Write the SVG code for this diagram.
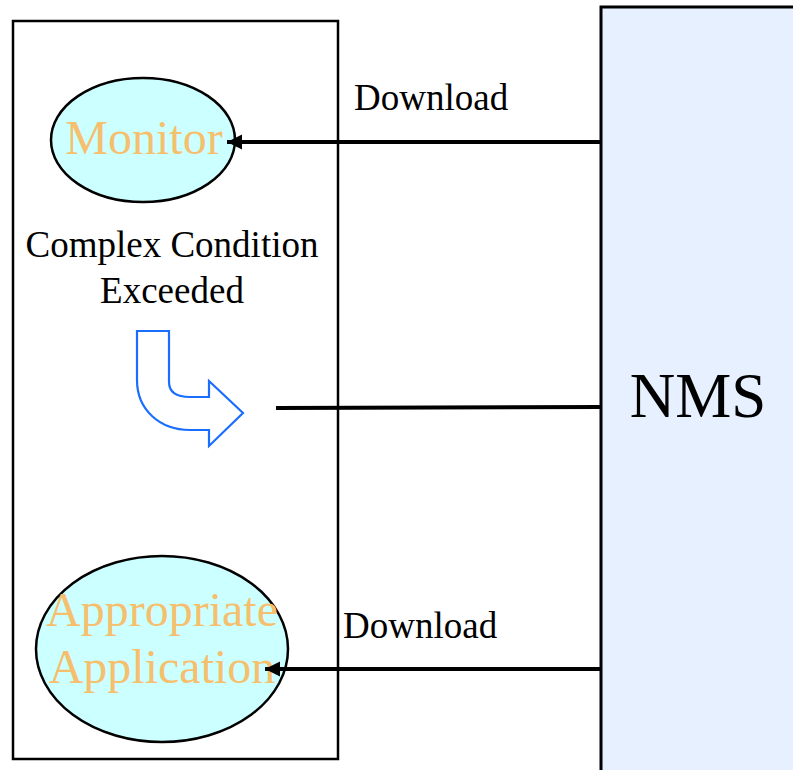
<svg xmlns="http://www.w3.org/2000/svg" width="793" height="770" viewBox="0 0 793 770">
  <style>
    .serif { font-family: "Liberation Serif", "Times New Roman", serif; }
    .label { font-size: 37px; fill: #000; }
    .node-text { font-size: 48px; fill: #F5BF6E; }
    .oval { fill: #CCFFFF; stroke: #000; stroke-width: 2.5; }
    .wire { stroke: #000; stroke-width: 4; fill: none; }
  </style>
  <defs>
    <marker id="head" markerUnits="userSpaceOnUse" markerWidth="16" markerHeight="16" refX="15" refY="8" orient="auto">
      <path d="M0,0.5 L15,8 L0,15.5 Z" fill="#000"/>
    </marker>
  </defs>

  <!-- Agent container -->
  <g id="agent">
    <rect x="13" y="21" width="325" height="738" fill="#fff" stroke="#000" stroke-width="2.5"/>
  </g>

  <!-- NMS block -->
  <g id="nms">
    <rect x="601" y="7" width="200" height="780" fill="#E6F0FE" stroke="#000" stroke-width="3"/>
    <text class="serif" x="698" y="417" font-size="63" text-anchor="middle">NMS</text>
  </g>

  <!-- Monitor node -->
  <g id="monitor">
    <ellipse class="oval" cx="143" cy="140" rx="92" ry="62"/>
    <text class="serif node-text" x="144" y="154" text-anchor="middle">Monitor</text>
  </g>

  <!-- Application node -->
  <g id="application">
    <ellipse class="oval" cx="162" cy="649" rx="126" ry="93"/>
    <text class="serif node-text" x="162" y="626" text-anchor="middle">Appropriate</text>
    <text class="serif node-text" x="162" y="683" text-anchor="middle">Application</text>
  </g>

  <!-- Condition note with bent arrow -->
  <g id="condition">
    <text class="serif label" x="172" y="257" text-anchor="middle">Complex Condition</text>
    <text class="serif label" x="172" y="303" text-anchor="middle">Exceeded</text>
    <path d="M137,331 H169 V382 Q169,397 190,397 H209 V381 L243,413 L209,446 V430 H190 C160,430 137,410 137,380 Z" fill="#fff" stroke="#1A6EFF" stroke-width="2.2" stroke-linejoin="miter"/>
  </g>

  <!-- Connectors -->
  <g id="connectors">
    <line class="wire" x1="601" y1="142" x2="227" y2="142" marker-end="url(#head)"/>
    <line class="wire" x1="601" y1="407" x2="276" y2="408"/>
    <line class="wire" x1="601" y1="669" x2="265" y2="669" marker-end="url(#head)"/>
    <text class="serif label" x="354" y="110">Download</text>
    <text class="serif label" x="343" y="638">Download</text>
  </g>
</svg>
